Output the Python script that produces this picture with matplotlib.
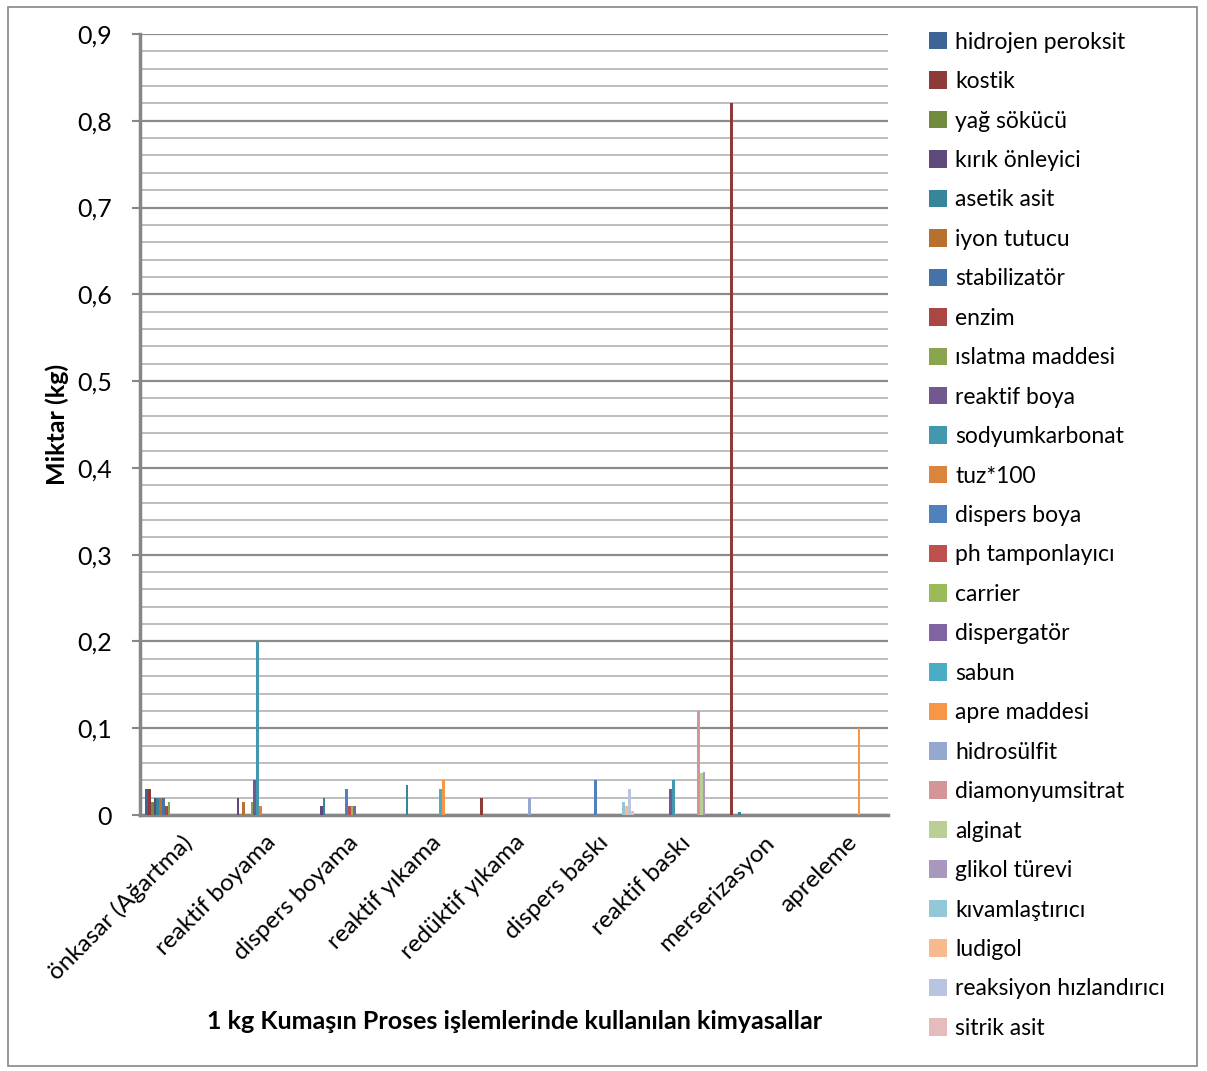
import numpy as np
import matplotlib
matplotlib.use("Agg")
import matplotlib.pyplot as plt
from matplotlib.patches import Rectangle
from matplotlib.ticker import MultipleLocator, FuncFormatter

plt.rcParams['font.family'] = ['Lato', 'DejaVu Sans']

categories = ["önkasar (Ağartma)", "reaktif boyama", "dispers boyama", "reaktif yıkama",
              "redüktif yıkama", "dispers baskı", "reaktif baskı", "merserizasyon", "apreleme"]

series = ["hidrojen peroksit", "kostik", "yağ sökücü", "kırık önleyici", "asetik asit",
          "iyon tutucu", "stabilizatör", "enzim", "ıslatma maddesi", "reaktif boya",
          "sodyumkarbonat", "tuz*100", "dispers boya", "ph tamponlayıcı", "carrier",
          "dispergatör", "sabun", "apre maddesi", "hidrosülfit", "diamonyumsitrat",
          "alginat", "glikol türevi", "kıvamlaştırıcı", "ludigol",
          "reaksiyon hızlandırıcı", "sitrik asit"]

# one value per series (same order as `series`) for each process
onkasar = [0.03, 0.03, 0.015, 0.02, 0.02, 0.02, 0.02, 0.01, 0.015, 0, 0, 0, 0,
           0, 0, 0, 0, 0, 0, 0, 0, 0, 0, 0, 0, 0]
reaktif_boyama = [0, 0, 0, 0.02, 0, 0.015, 0, 0, 0.015, 0.04, 0.2, 0.01, 0,
                  0, 0, 0, 0, 0, 0, 0, 0, 0, 0, 0, 0, 0]
dispers_boyama = [0, 0, 0, 0.01, 0.02, 0, 0, 0, 0, 0, 0, 0, 0.03,
                  0.01, 0.01, 0.01, 0, 0, 0, 0, 0, 0, 0, 0, 0, 0]
reaktif_yikama = [0, 0, 0, 0, 0.035, 0, 0, 0, 0, 0, 0, 0, 0,
                  0, 0, 0, 0.03, 0.04, 0, 0, 0, 0, 0, 0, 0, 0]
reduktif_yikama = [0, 0.02, 0, 0, 0, 0, 0, 0, 0, 0, 0, 0, 0,
                   0, 0, 0, 0, 0, 0.02, 0, 0, 0, 0, 0, 0, 0]
dispers_baski = [0, 0, 0, 0, 0, 0, 0, 0, 0, 0, 0, 0, 0.04,
                 0, 0, 0, 0, 0, 0, 0, 0, 0, 0.015, 0.01, 0.03, 0.005]
reaktif_baski = [0, 0, 0, 0, 0, 0, 0, 0, 0, 0.03, 0.04, 0, 0,
                 0, 0, 0, 0, 0, 0, 0.12, 0.048, 0.05, 0, 0, 0, 0]
merserizasyon = [0, 0.82, 0, 0, 0.003, 0, 0, 0, 0, 0, 0, 0, 0,
                 0, 0, 0, 0, 0, 0, 0, 0, 0, 0, 0, 0, 0]
apreleme = [0, 0, 0, 0, 0, 0, 0, 0, 0, 0, 0, 0, 0,
            0, 0, 0, 0, 0.1, 0, 0, 0, 0, 0, 0, 0, 0]

colors = ["#3C6496", "#8E3A38", "#718C3E", "#5E4A7A", "#36859A", "#B8702F",
          "#4572A7", "#AA4643", "#89A54E", "#71588F", "#4198AF", "#DB843D",
          "#4F81BD", "#C0504D", "#9BBB59", "#8064A2", "#4BACC6", "#F79646",
          "#95A9D0", "#D39595", "#B9CF96", "#A997C0", "#93C8D8", "#F9B98E",
          "#B9C5E0", "#E3BCBB"]

values = np.array([onkasar, reaktif_boyama, dispers_boyama, reaktif_yikama,
                   reduktif_yikama, dispers_baski, reaktif_baski, merserizasyon,
                   apreleme]).T

fig = plt.figure(figsize=(12.07, 10.71), dpi=100)
ax = fig.add_axes([0.116, 0.239, 0.6197, 0.7293])

x = np.arange(len(categories))
n = len(series)
w = 0.876 / n
for i in range(n):
    ax.bar(x - 0.438 + (i + 0.5) * w, values[i], width=w, color=colors[i],
           label=series[i], zorder=3, linewidth=0)

ax.set_xlim(-0.5, len(categories) - 0.5)
ax.set_ylim(0, 0.9)
ax.yaxis.set_major_locator(MultipleLocator(0.1))
ax.yaxis.set_minor_locator(MultipleLocator(0.02))
ax.yaxis.set_major_formatter(FuncFormatter(
    lambda v, p: "0" if abs(v) < 1e-9 else f"{v:.1f}".replace(".", ",")))
ax.grid(which='major', axis='y', color='#8C8C8C', linewidth=1.6, zorder=0)
ax.grid(which='minor', axis='y', color='#BDBDBD', linewidth=1.4, zorder=0)
ax.tick_params(axis='y', which='major', length=6, width=1.5, color='#868686',
               labelsize=18, pad=14)
ax.tick_params(axis='y', which='minor', length=0)

ax.set_xticks(x)
ax.set_xticklabels(categories, rotation=45, ha='right', rotation_mode='anchor',
                   fontsize=17.5)
ax.tick_params(axis='x', length=0, pad=12)

for s in ['top', 'right']:
    ax.spines[s].set_visible(False)
for s in ['left', 'bottom']:
    ax.spines[s].set_color('#868686')
    ax.spines[s].set_linewidth(2.5)

ax.set_ylabel("Miktar (kg)", fontsize=18, fontweight='bold', labelpad=6)
fig.text(0.426, 0.046, "1 kg Kumaşın Proses işlemlerinde kullanılan kimyasallar",
         ha='center', va='center', fontsize=18, fontweight='bold')

fig.legend(loc='upper left', bbox_to_anchor=(0.762, 0.979), frameon=False,
           fontsize=16.5, handlelength=0.8, handleheight=0.8, handletextpad=0.35,
           labelspacing=0.805, borderaxespad=0)

fig.add_artist(Rectangle((0.007, 0.005), 0.985, 0.988, transform=fig.transFigure,
                         fill=False, edgecolor='#868686', linewidth=1.2))

fig.savefig("out.png", dpi=100)
